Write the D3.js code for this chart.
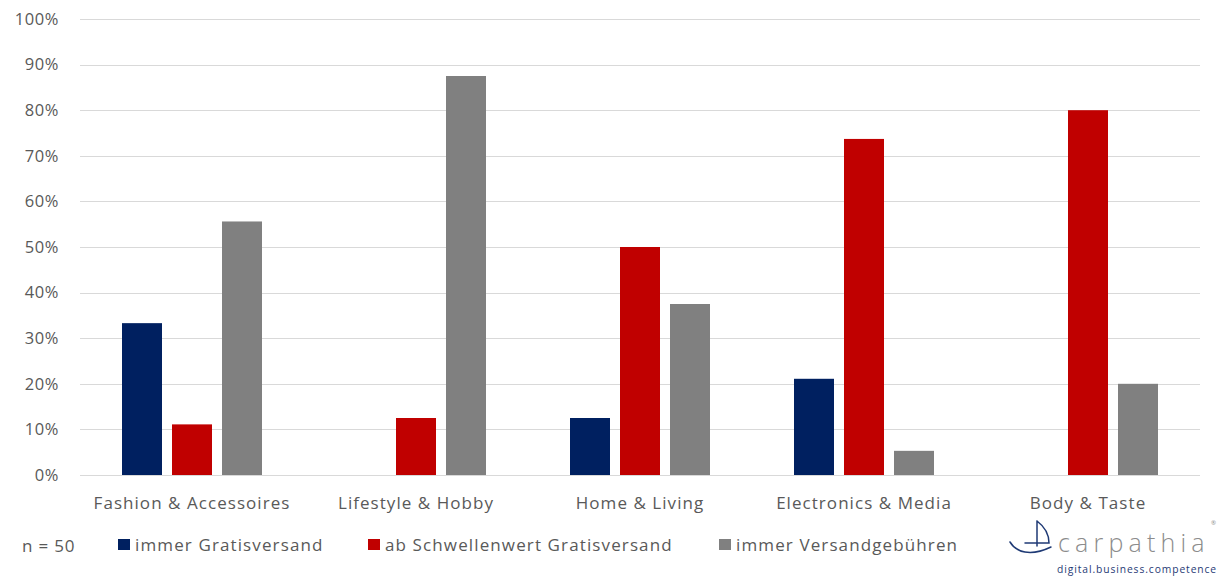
<!DOCTYPE html>
<html>
<head>
<meta charset="utf-8">
<script src="https://cdn.jsdelivr.net/npm/d3@7"></script>
<style>
  html, body { margin: 0; padding: 0; background: #fff; }
  svg { display: block; font-family: "Open Sans", Lato, sans-serif; }
</style>
</head>
<body>
<svg id="chart" width="1221" height="577"></svg>
<script>
// Versandmodell je Shop-Kategorie (Anteil der Shops)
const categories = ["Fashion & Accessoires", "Lifestyle & Hobby", "Home & Living", "Electronics & Media", "Body & Taste"];
const seriesNames = ["immer Gratisversand", "ab Schwellenwert Gratisversand", "immer Versandgebühren"];
const immerGratis = [0.333, 0, 0.125, 0.211, 0];
const abSchwellenwert = [0.111, 0.125, 0.5, 0.737, 0.8];
const immerGebuehren = [0.556, 0.875, 0.375, 0.053, 0.2];
const yTicks = [0, 0.1, 0.2, 0.3, 0.4, 0.5, 0.6, 0.7, 0.8, 0.9, 1.0];
const sampleNote = "n = 50";

const colors = ["#002060", "#C00000", "#808080"];
const seriesValues = [immerGratis, abSchwellenwert, immerGebuehren];
const textColor = "#595959";
const labelFont = "'Open Sans', sans-serif";

const svg = d3.select("#chart");
const plot = { left: 80, right: 1200, top: 19, bottom: 475 };

const x = d3.scaleBand().domain(categories).range([plot.left, plot.right]).paddingInner(0).paddingOuter(0);
const xInner = d3.scaleBand().domain(seriesNames).range([42, 182]).paddingInner(0.2).paddingOuter(0);
const y = d3.scaleLinear().domain([0, 1]).range([plot.bottom, plot.top]);

// gridlines
svg.append("g")
  .selectAll("line")
  .data(yTicks)
  .join("line")
  .attr("x1", plot.left).attr("x2", plot.right)
  .attr("y1", d => Math.round(y(d)) + 0.5).attr("y2", d => Math.round(y(d)) + 0.5)
  .attr("stroke", "#d9d9d9").attr("stroke-width", 1.2);

// y axis labels
const yAxis = d3.axisLeft(y).tickValues(yTicks).tickFormat(d3.format(".0%")).tickSize(0).tickPadding(21);
const yg = svg.append("g").attr("transform", `translate(${plot.left},0)`).call(yAxis);
yg.select(".domain").remove();
yg.selectAll("text").attr("font-size", 16.5).attr("fill", textColor)
  .attr("font-family", labelFont).attr("letter-spacing", 0.6);

// bars
const rows = [];
categories.forEach((c, i) => {
  seriesNames.forEach((s, j) => {
    rows.push({ cat: c, series: s, value: seriesValues[j][i], color: colors[j] });
  });
});
svg.append("g")
  .selectAll("rect")
  .data(rows.filter(d => d.value > 0))
  .join("rect")
  .attr("x", d => x(d.cat) + xInner(d.series))
  .attr("width", xInner.bandwidth())
  .attr("y", d => y(d.value))
  .attr("height", d => y(0) - y(d.value))
  .attr("fill", d => d.color);

// category labels
const xAxis = d3.axisBottom(x).tickSize(0).tickPadding(22);
const xg = svg.append("g").attr("transform", `translate(0,${plot.bottom})`).call(xAxis);
xg.select(".domain").remove();
xg.selectAll("text").attr("font-size", 17).attr("fill", textColor)
  .attr("font-family", labelFont).attr("letter-spacing", 1.05);

// sample note
svg.append("text")
  .attr("x", 22).attr("y", 552)
  .attr("font-size", 17).attr("fill", textColor)
  .attr("font-family", labelFont).attr("letter-spacing", 0.8)
  .text(sampleNote);

// legend
const legendX = [118, 368, 719];
const lg = svg.append("g").selectAll("g").data(seriesNames).join("g")
  .attr("transform", (d, i) => `translate(${legendX[i]},539)`);
lg.append("rect").attr("x", 0).attr("y", 0).attr("width", 12).attr("height", 11)
  .attr("fill", (d, i) => colors[i]);
lg.append("text").attr("x", 17).attr("y", 12)
  .attr("font-size", 17).attr("fill", textColor)
  .attr("font-family", labelFont).attr("letter-spacing", 1.12)
  .text(d => d);

// company logo: sailboat mark, name and claim
const logo = svg.append("g");
logo.append("path")
  .attr("d", "M1037,521 L1037,546 M1037,521 C1045,527 1049,535 1049,543 L1025,543 M1010,542 C1016,552 1030,557 1051,547")
  .attr("fill", "none").attr("stroke", "#1f3a75").attr("stroke-width", 1.5)
  .attr("stroke-linecap", "round");
logo.append("text")
  .attr("x", 1058).attr("y", 552)
  .attr("font-size", 25).attr("fill", "#8c8c8c")
  .attr("letter-spacing", 5.2)
  .attr("font-family", "'Open Sans', sans-serif").attr("font-weight", 300)
  .text("carpathia");
logo.append("text")
  .attr("x", 1211).attr("y", 525)
  .attr("font-size", 6).attr("fill", "#8c8c8c")
  .text("®");
logo.append("text")
  .attr("x", 1057).attr("y", 573)
  .attr("font-size", 10.3).attr("fill", "#1f3a75")
  .attr("letter-spacing", 0.9)
  .text("digital.business.competence");
</script>
</body>
</html>
